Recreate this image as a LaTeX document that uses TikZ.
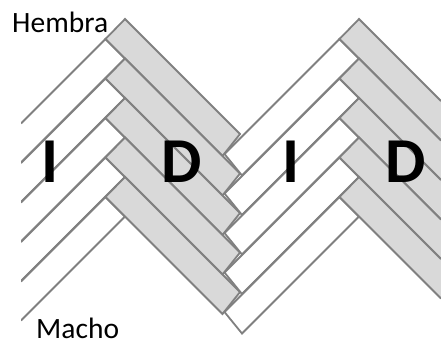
\documentclass[tikz,border=0pt]{standalone}
\usepackage{fontspec}
\setmainfont{Carlito}
\definecolor{barline}{RGB}{128,128,128}
\definecolor{barfill}{RGB}{217,217,217}
\tikzset{
  graybar/.style={draw=barline,fill=barfill,line width=1.8pt,line join=miter},
  whitebar/.style={draw=barline,fill=white,line width=1.8pt,line join=miter},
  small/.style={font=\fontsize{29.5}{30}\selectfont,text=black,inner sep=0pt,anchor=base west},
  big/.style={font=\fontsize{64}{64}\selectfont\bfseries,text=black,inner sep=0pt,anchor=base}
}
\begin{document}
\begin{tikzpicture}[x=1pt,y=-1pt]
\useasboundingbox (0,0) rectangle (441,342);
\begin{scope}
\clip (21,0) rectangle (441,342);
% left peak: white bars run off the left edge (no closing edge there)
\foreach \k in {0,...,4}{
  \pgfmathsetmacro{\t}{19+39.5*\k}
  \fill[white] (105.5,\t+20) -- (125,\t+39.5) -- (21,\t+143.5) -- (21,\t+104.5) -- cycle;
  \draw[whitebar,fill=none] (21,\t+104.5) -- (105.5,\t+20) -- (125,\t+39.5) -- (21,\t+143.5);
}
% left peak: gray bars
\foreach \k in {0,...,4}{
  \pgfmathsetmacro{\t}{19+39.5*\k}
  \draw[graybar] (125,\t) -- (105.5,\t+20) -- (222.5,\t+137) -- (240,\t+115) -- cycle;
}
% second peak: white bars
\foreach \k in {0,...,4}{
  \pgfmathsetmacro{\t}{19+39.5*\k}
  \draw[whitebar] (339.5,\t+20) -- (359,\t+39.5) -- (242,\t+156.5) -- (224.5,\t+135) -- cycle;
}
% second peak: gray bars run off the right edge (no closing edge there)
\foreach \k in {0,...,4}{
  \pgfmathsetmacro{\t}{19+39.5*\k}
  \fill[barfill] (359,\t) -- (339.5,\t+20) -- (441,\t+121.5) -- (441,\t+82) -- cycle;
  \draw[graybar,fill=none] (441,\t+82) -- (359,\t) -- (339.5,\t+20) -- (441,\t+121.5);
}
\end{scope}
\node[small] (hembra) at (12,33) {Hembra};
\node[small] (macho) at (36,338.5) {Macho};
\node[big] (i1) at (50,182) {I};
\node[big] (d1) at (182,182) {D};
\node[big] (i2) at (291,182) {I};
\node[big] (d2) at (406,182) {D};
\end{tikzpicture}
\end{document}
